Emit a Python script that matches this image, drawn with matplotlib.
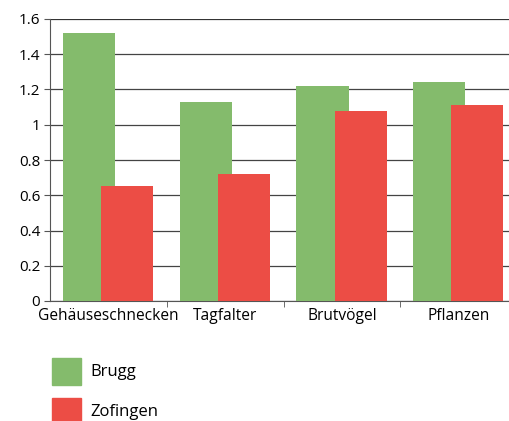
import matplotlib
matplotlib.use("Agg")
import matplotlib.pyplot as plt
import numpy as np
from matplotlib.patches import Rectangle

categories = ["Gehäuseschnecken", "Tagfalter", "Brutvögel", "Pflanzen"]
brugg = [1.52, 1.13, 1.22, 1.24]
zofingen = [0.65, 0.72, 1.08, 1.11]
series_names = ["Brugg", "Zofingen"]
yticks = [0, 0.2, 0.4, 0.6, 0.8, 1, 1.2, 1.4, 1.6]
ytick_labels = ["0", "0.2", "0.4", "0.6", "0.8", "1", "1.2", "1.4", "1.6"]

green = "#84bb6c"
red = "#ec4d45"

plt.rcParams['font.family'] = ['Open Sans', 'DejaVu Sans']

W, H = 509, 421
fig = plt.figure(figsize=(W / 100, H / 100), dpi=100)
# axes spans x 50..517 px, y 19..301 px
ax = fig.add_axes([50 / W, (H - 301) / H, (517 - 50) / W, (301 - 19) / H])

x = np.arange(len(categories))
bw = 0.446
ax.bar(x + 0.334, brugg, width=bw, color=green, zorder=3)
ax.bar(x + 0.660, zofingen, width=bw, color=red, zorder=3)

ax.set_xlim(0, len(categories))
ax.set_ylim(0, 1.6)
ax.set_yticks(yticks)
ax.set_yticklabels(ytick_labels, fontsize=11)
ax.yaxis.grid(True, color="#444444", linewidth=0.9, zorder=0)
ax.set_xticks(x + 0.5)
ax.set_xticklabels(categories, fontsize=11.2)
ax.set_xticks(np.arange(1, len(categories)), minor=True)
ax.tick_params(axis="x", which="major", length=0, pad=5)
ax.tick_params(axis="x", which="minor", length=4, color="#555555")
ax.tick_params(axis="y", length=4, color="#555555", pad=3)
for s in ["top", "right"]:
    ax.spines[s].set_visible(False)
ax.spines["left"].set_color("#555555")
ax.spines["bottom"].set_color("#555555")
ax.axhline(1.6, color="#333333", linewidth=1.3, zorder=2)

# legend
for i, (name, col) in enumerate(zip(series_names, [green, red])):
    y0 = 358 + i * 40
    fig.patches.append(Rectangle((52 / W, (H - y0 - 27) / H), 29 / W, 27 / H,
                                 transform=fig.transFigure, color=col))
    fig.text(90 / W, (H - y0 - 14) / H, name, fontsize=12, va="center", ha="left")

fig.savefig("out.png", dpi=100)
